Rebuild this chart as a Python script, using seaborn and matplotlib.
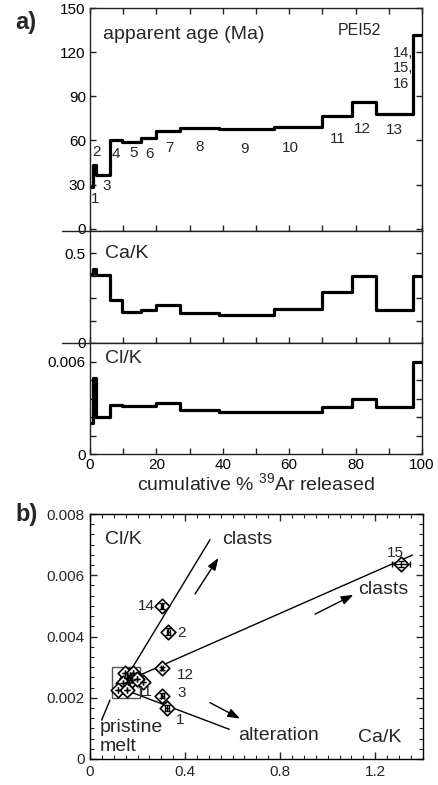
import matplotlib
matplotlib.use("Agg")
import matplotlib.pyplot as plt
import seaborn as sns
import pandas as pd
from matplotlib.ticker import MultipleLocator, AutoMinorLocator, FixedLocator, FixedFormatter
from matplotlib.lines import Line2D
from matplotlib.patches import Rectangle

# ---------------- data: step-heating spectrum (PEI52) ----------------
cum_ar39 = [0, 0.8, 1.7, 6.0, 9.5, 15.5, 20.0, 27.0, 39.0, 55.3, 69.9, 78.9, 86.1, 97.4, 100.0]
ages = [28.7, 43.5, 36.4, 60.2, 59.3, 62.0, 66.4, 68.2, 67.5, 69.1, 76.4, 86.4, 78.2, 131.5]
ca_k_steps = [0.385, 0.411, 0.379, 0.240, 0.171, 0.184, 0.210, 0.167, 0.156, 0.190, 0.286, 0.374, 0.184, 0.374]
cl_k_steps = [0.00199, 0.00490, 0.00242, 0.00318, 0.00313, 0.00311, 0.00329, 0.00283, 0.00272, 0.00272,
              0.00305, 0.00357, 0.00305, 0.00599]
step_names = ["1", "2", "3", "4", "5", "6", "7", "8", "9", "10", "11", "12", "13", "14,\n15,\n16"]

# ---------------- data: Cl/K vs Ca/K ----------------
pt_ca = [0.325, 0.330, 0.304, 0.168, 0.154, 0.161, 0.175, 0.147, 0.140, 0.182, 0.224, 0.302, 0.196,
         0.302, 1.308, 0.119, 0.154]
pt_cl = [0.00166, 0.00416, 0.00207, 0.00274, 0.00264, 0.00252, 0.00258, 0.00280, 0.00247, 0.00280,
         0.00252, 0.00296, 0.00260, 0.00500, 0.00636, 0.00225, 0.00225]
pt_ca_err = [0.008, 0.008, 0.006, 0, 0, 0, 0, 0, 0, 0, 0, 0.005, 0, 0.004, 0.037, 0, 0]
pt_cl_err = [0.00010, 0.00012, 0.00008, 0, 0, 0, 0, 0, 0, 0, 0, 0.00006, 0, 0.00010, 0.00010, 0, 0]
pt_names = ["1", "2", "3", "", "", "", "", "", "", "", "11", "12", "", "14", "15", "", ""]

# trend lines and arrows (Ca/K, Cl/K)
trend_x = [[0.168, 0.505], [0.210, 1.357], [0.112, 0.586], [0.084, 0.049]]
trend_y = [[0.00285, 0.00716], [0.00274, 0.00666], [0.00236, 0.00097], [0.00192, 0.00127]]
arrow_start = [(0.442, 0.00539), (0.947, 0.00473), (0.505, 0.00184)]
arrow_end = [(0.540, 0.00656), (1.108, 0.00536), (0.631, 0.00132)]
melt_box = (0.091, 0.00198, 0.120, 0.00103)

# ---------------- style ----------------
sns.set_theme(style="ticks")
plt.rcParams['font.family'] = ['Liberation Sans', 'DejaVu Sans']
plt.rcParams['mathtext.fontset'] = 'custom'
plt.rcParams['mathtext.rm'] = 'Liberation Sans'
plt.rcParams['axes.edgecolor'] = '#222222'
plt.rcParams['axes.linewidth'] = 1.0

W, H = 438, 785
fig = plt.figure(figsize=(W / 100, H / 100), dpi=100)


def fx(px):
    return px / W


def fy(py):
    return 1 - py / H


L, R = 90, 422
ax1 = fig.add_axes([fx(L), fy(231), fx(R) - fx(L), fy(8) - fy(231)])
ax2 = fig.add_axes([fx(L), fy(343), fx(R) - fx(L), fy(231) - fy(343)], sharex=ax1)
ax3 = fig.add_axes([fx(L), fy(454), fx(R) - fx(L), fy(343) - fy(454)], sharex=ax1)
axb = fig.add_axes([fx(L), fy(759), fx(422.7) - fx(L), fy(514) - fy(759)])

df = pd.DataFrame({
    "x": cum_ar39,
    "age": ages + [ages[-1]],
    "cak": ca_k_steps + [ca_k_steps[-1]],
    "clk": cl_k_steps + [cl_k_steps[-1]],
})

for ax, col in [(ax1, "age"), (ax2, "cak"), (ax3, "clk")]:
    sns.lineplot(data=df, x="x", y=col, ax=ax, drawstyle="steps-post", color="black",
                 linewidth=2.3, estimator=None, sort=False)
    ax.set_xlabel("")
    ax.set_ylabel("")
    ax.set_xlim(0, 100)
    ax.xaxis.set_major_locator(MultipleLocator(20))
    ax.xaxis.set_minor_locator(MultipleLocator(10))
    ax.tick_params(which="both", direction="in", length=4, width=1, right=True, top=(ax is ax1),
                   labelsize=11, pad=3, colors="#222222", labelcolor="black")

for ax in (ax1, ax2):
    ax.tick_params(labelbottom=False)
for ax in (ax2, ax3):
    ax.spines["top"].set_visible(False)

# panel a1: ages
ax1.set_ylim(-1.5, 150)
ax1.yaxis.set_major_locator(MultipleLocator(30))
ax1.text(0.039, 0.879, "apparent age (Ma)", transform=ax1.transAxes, fontsize=14, va="center", ha="left")
ax1.text(0.747, 0.901, "PEI52", transform=ax1.transAxes, fontsize=11.5, va="center", ha="left")
label_pos = [(1.5, 20), (2.0, 52), (5.0, 29.3), (7.8, 51), (13, 51.5), (17.8, 51), (23.9, 55), (33.1, 55.5),
             (46.5, 54), (60.5, 55), (74.5, 61), (82, 68), (91.6, 67), (91.2, 109)]
for name, (lx, ly) in zip(step_names, label_pos):
    multi = "\n" in name
    ax1.text(lx, ly, name, fontsize=10.5 if multi else 11, ha="left" if multi else "center",
             va="center", linespacing=1.15)

# panel a2: Ca/K
ax2.set_ylim(0, 0.625)
ax2.yaxis.set_major_locator(FixedLocator([0, 0.125, 0.25, 0.375, 0.5]))
ax2.yaxis.set_major_formatter(FixedFormatter(["0", "", "", "", "0.5"]))
ax2.text(0.045, 0.80, "Ca/K", transform=ax2.transAxes, fontsize=14, va="center", ha="left")

# panel a3: Cl/K
ax3.set_ylim(0, 0.0072)
ax3.yaxis.set_major_locator(FixedLocator([0, 0.0012, 0.0024, 0.0036, 0.0048, 0.006]))
ax3.yaxis.set_major_formatter(FixedFormatter(["0", "", "", "", "", "0.006"]))
ax3.text(0.045, 0.856, "Cl/K", transform=ax3.transAxes, fontsize=14, va="center", ha="left")
ax3.set_xlabel("cumulative % $^{39}$Ar released", fontsize=14, labelpad=0)

# separator lines extending past the left axis
for py in (231, 343):
    fig.add_artist(Line2D([fx(62), fx(R)], [fy(py), fy(py)], transform=fig.transFigure,
                          color="#222222", lw=1))

# ---------------- panel b ----------------
axb.errorbar(pt_ca, pt_cl, xerr=pt_ca_err, yerr=pt_cl_err, fmt="none", ecolor="black",
             elinewidth=1, capsize=2, zorder=4)
sns.scatterplot(x=pt_ca, y=pt_cl, ax=axb, marker="D", s=55, color="white", edgecolor="black",
                linewidth=1.2, zorder=3)
for xs, ys in zip(trend_x, trend_y):
    axb.plot(xs, ys, color="black", lw=1, zorder=2)
for s, e in zip(arrow_start, arrow_end):
    axb.annotate("", xy=e, xytext=s,
                 arrowprops=dict(arrowstyle="-|>,head_length=0.6,head_width=0.22", color="black",
                                 lw=1, shrinkA=0, shrinkB=0))
axb.add_patch(Rectangle(melt_box[:2], melt_box[2], melt_box[3], fill=False, edgecolor="#555555",
                        lw=1, zorder=1))

name_offsets = {"1": (9, -8.4), "2": (9.6, -1.2), "3": (14, 1.7), "11": (1.2, -7.4),
                "12": (16.8, -4.8), "14": (-10.8, 0), "15": (-4, 7.9)}
for name, x, y in zip(pt_names, pt_ca, pt_cl):
    if name:
        axb.annotate(name, (x, y), xytext=name_offsets[name], textcoords="offset points",
                     fontsize=11, ha="center", va="center")

axb.text(0.045, 0.894, "Cl/K", transform=axb.transAxes, fontsize=14, va="center", ha="left")
axb.text(0.806, 0.086, "Ca/K", transform=axb.transAxes, fontsize=14, va="center", ha="left")
axb.text(0.554, 0.00717, "clasts", fontsize=14, va="center", ha="left")
axb.text(1.128, 0.00552, "clasts", fontsize=14, va="center", ha="left")
axb.text(0.623, 0.00078, "alteration", fontsize=14, va="center", ha="left")
axb.text(0.042, 0.00073, "pristine\nmelt", fontsize=14, va="center", ha="left", linespacing=1.15)

axb.set_xlim(0, 1.4)
axb.set_ylim(0, 0.008)
axb.xaxis.set_major_locator(MultipleLocator(0.4))
axb.xaxis.set_minor_locator(MultipleLocator(0.05))
axb.yaxis.set_major_locator(MultipleLocator(0.002))
axb.yaxis.set_minor_locator(AutoMinorLocator(6))
axb.xaxis.set_major_formatter(matplotlib.ticker.FuncFormatter(lambda v, p: "0" if v == 0 else f"{v:.1f}"))
axb.yaxis.set_major_formatter(matplotlib.ticker.FuncFormatter(lambda v, p: "0" if v == 0 else f"{v:.3f}"))
axb.tick_params(which="both", direction="in", top=True, right=True, labelsize=11, pad=4)
axb.tick_params(which="major", length=5, width=1)
axb.tick_params(which="minor", length=3, width=0.8)
for sp in axb.spines.values():
    sp.set_color("black")

fig.text(fx(26), fy(22), "a)", fontsize=17, fontweight="bold", ha="center", va="center")
fig.text(fx(27), fy(514), "b)", fontsize=17, fontweight="bold", ha="center", va="center")

fig.savefig("out.png", dpi=100)
